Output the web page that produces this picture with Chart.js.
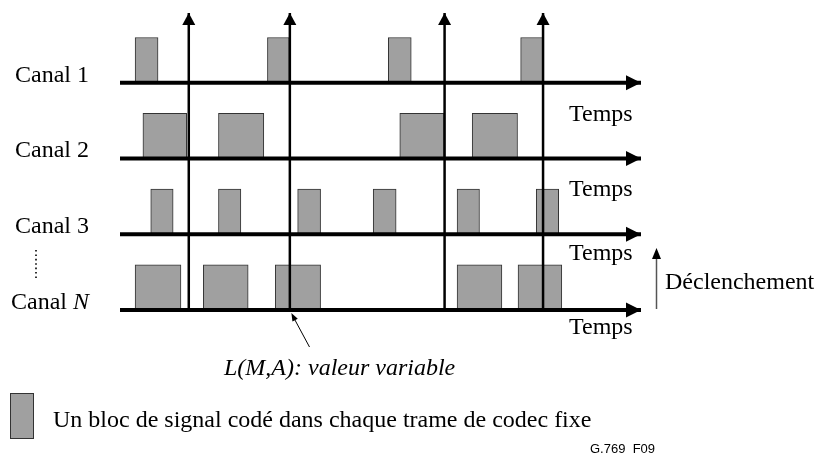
<!DOCTYPE html>
<html>
<head>
<meta charset="utf-8">
<script src="https://cdn.jsdelivr.net/npm/chart.js@4"></script>
<style>
  html, body { margin: 0; padding: 0; background: #fff; }
  canvas { display: block; }
</style>
</head>
<body>
<canvas id="myChart" width="816" height="462"></canvas>
<script>
// canaux de haut en bas, avec le niveau de base de chaque ligne
const canaux = ["Canal 1", "Canal 2", "Canal 3", "Canal N"];
const niveaux = [3, 2, 1, 0];

// blocs de signal codé : [debut, fin] sur l'axe du temps
const blocsCanal1 = [[2.9, 7.3], [28.3, 32.5], [51.5, 55.9], [76.9, 81.2]];
const blocsCanal2 = [[4.4, 12.8], [18.9, 27.6], [53.7, 62.2], [67.6, 76.3]];
const blocsCanal3 = [[5.9, 10.2], [18.9, 23.2], [34.1, 38.5], [48.6, 53.0], [64.7, 69.0], [79.9, 84.2]];
const blocsCanalN = [[2.9, 11.7], [16.0, 24.6], [29.8, 38.5], [64.7, 73.3], [76.4, 84.8]];
const blocs = [blocsCanal1, blocsCanal2, blocsCanal3, blocsCanalN];

// instants de déclenchement
const declenchements = [13.2, 32.6, 62.3, 81.2];

const tempsMax = 100;
const hautMax = 3.92;
const hautBloc = 0.6;

const GRIS = "#a0a0a0";
const BORD = "#333333";
const SERIF = "'Liberation Serif', 'Times New Roman', serif";

function pointe(ctx, x0, y0, x1, y1, l, w, col) {
    const ang = Math.atan2(y1 - y0, x1 - x0);
    ctx.save();
    ctx.translate(x1, y1);
    ctx.rotate(ang);
    ctx.beginPath();
    ctx.moveTo(0, 0);
    ctx.lineTo(-l, -w);
    ctx.lineTo(-l, w);
    ctx.closePath();
    ctx.fillStyle = col;
    ctx.fill();
    ctx.restore();
}

const fleches = {
    id: "fleches",
    afterDatasetsDraw(chart) {
        const ctx = chart.ctx;
        chart.data.datasets.forEach((ds, i) => {
            if (!ds.fleche) return;
            const pts = chart.getDatasetMeta(i).data;
            const a = pts[pts.length - 2];
            const b = pts[pts.length - 1];
            pointe(ctx, a.x, a.y, b.x, b.y, ds.fleche.l, ds.fleche.w, ds.borderColor);
        });
    },
};

const textes = {
    id: "textes",
    afterDraw(chart) {
        const ctx = chart.ctx;
        const sy = chart.scales.y;
        const sx = chart.scales.x;
        ctx.save();
        ctx.fillStyle = "#000";
        ctx.textBaseline = "alphabetic";
        ctx.textAlign = "left";

        // noms des canaux
        const xCanal = [15, 15, 15, 11];
        canaux.forEach((c, i) => {
            const yb = sy.getPixelForValue(niveaux[i]) - 1;
            const parts = c.split(" ");
            ctx.font = "24px " + SERIF;
            const debut = parts[0] + " ";
            ctx.fillText(debut, xCanal[i], yb);
            const w = ctx.measureText(debut).width;
            ctx.font = (isNaN(Number(parts[1])) ? "italic " : "") + "24px " + SERIF;
            ctx.fillText(parts[1], xCanal[i] + w, yb);
        });

        // "Temps" sous chaque axe
        ctx.font = "24px " + SERIF;
        const decalTemps = [38, 38, 26, 24];
        niveaux.forEach((n, i) => {
            ctx.fillText("Temps", 569, sy.getPixelForValue(n) + decalTemps[i]);
        });

        // pointillés entre Canal 3 et Canal N
        ctx.save();
        ctx.strokeStyle = "#000";
        ctx.lineWidth = 1.6;
        ctx.setLineDash([1.6, 2.8]);
        ctx.beginPath();
        ctx.moveTo(36, 250);
        ctx.lineTo(36, 278);
        ctx.stroke();
        ctx.restore();

        // Déclenchement
        ctx.save();
        ctx.strokeStyle = "#555";
        ctx.lineWidth = 1.5;
        ctx.beginPath();
        ctx.moveTo(656.5, 309);
        ctx.lineTo(656.5, 256);
        ctx.stroke();
        ctx.restore();
        pointe(ctx, 656.5, 300, 656.5, 248, 11, 4.5, "#000");
        ctx.font = "24px " + SERIF;
        ctx.fillText("Déclenchement", 665, 289);

        // L(M,A)
        const xL = sx.getPixelForValue(declenchements[1]) + 1.5;
        const yL = sy.getPixelForValue(0) + 3;
        ctx.save();
        ctx.strokeStyle = "#000";
        ctx.lineWidth = 1;
        ctx.beginPath();
        ctx.moveTo(309.5, 347);
        ctx.lineTo(xL + 2, yL + 4);
        ctx.stroke();
        ctx.restore();
        pointe(ctx, 309.5, 347, xL, yL, 8, 3, "#000");
        ctx.font = "italic 24px " + SERIF;
        ctx.fillText("L(M,A): valeur variable", 224, 375);

        // légende
        ctx.fillStyle = GRIS;
        ctx.fillRect(10, 393, 23, 45);
        ctx.strokeStyle = BORD;
        ctx.lineWidth = 1;
        ctx.strokeRect(10.5, 393.5, 23, 45);
        ctx.fillStyle = "#000";
        ctx.font = "24px " + SERIF;
        ctx.fillText("Un bloc de signal codé dans chaque trame de codec fixe", 53, 427);

        ctx.font = "13px 'Liberation Sans', Arial, sans-serif";
        ctx.fillText("G.769  F09", 590, 453);
        ctx.restore();
    },
};

document.addEventListener("DOMContentLoaded", function () {
    const ctx = document.getElementById("myChart").getContext("2d");

    const datasets = [];

    // axes du temps
    niveaux.forEach((n) => {
        datasets.push({
            type: "line",
            data: [{ x: 0, y: n }, { x: tempsMax, y: n }],
            borderColor: "#000",
            borderWidth: 4,
            pointRadius: 0,
            fill: false,
            clip: false,
            order: 0,
            fleche: { l: 15, w: 7.5 },
        });
    });

    // lignes de déclenchement
    declenchements.forEach((t) => {
        datasets.push({
            type: "line",
            data: [{ x: t, y: 0 }, { x: t, y: hautMax }],
            borderColor: "#000",
            borderWidth: 2.5,
            pointRadius: 0,
            fill: false,
            clip: false,
            order: 0,
            fleche: { l: 12, w: 6.5 },
        });
    });

    // blocs de signal
    blocs.forEach((liste, i) => {
        datasets.push({
            type: "bar",
            label: canaux[i],
            indexAxis: "y",
            data: liste.map((b) => ({ x: [b[0], b[1]], y: niveaux[i] + hautBloc / 2 })),
            backgroundColor: GRIS,
            borderColor: BORD,
            borderWidth: 1,
            borderSkipped: false,
            barThickness: 45,
            grouped: false,
            clip: false,
            order: 1,
        });
    });

    new Chart(ctx, {
        type: "bar",
        data: { datasets: datasets },
        options: {
            responsive: false,
            animation: false,
            devicePixelRatio: 1,
            layout: { padding: { left: 120, right: 175, top: 13, bottom: 152 } },
            scales: {
                x: { type: "linear", min: 0, max: tempsMax, offset: false, display: false },
                y: { type: "linear", min: 0, max: hautMax, offset: false, display: false },
            },
            plugins: {
                legend: { display: false },
                tooltip: { enabled: false },
            },
        },
        plugins: [fleches, textes],
    });
});
</script>
</body>
</html>
